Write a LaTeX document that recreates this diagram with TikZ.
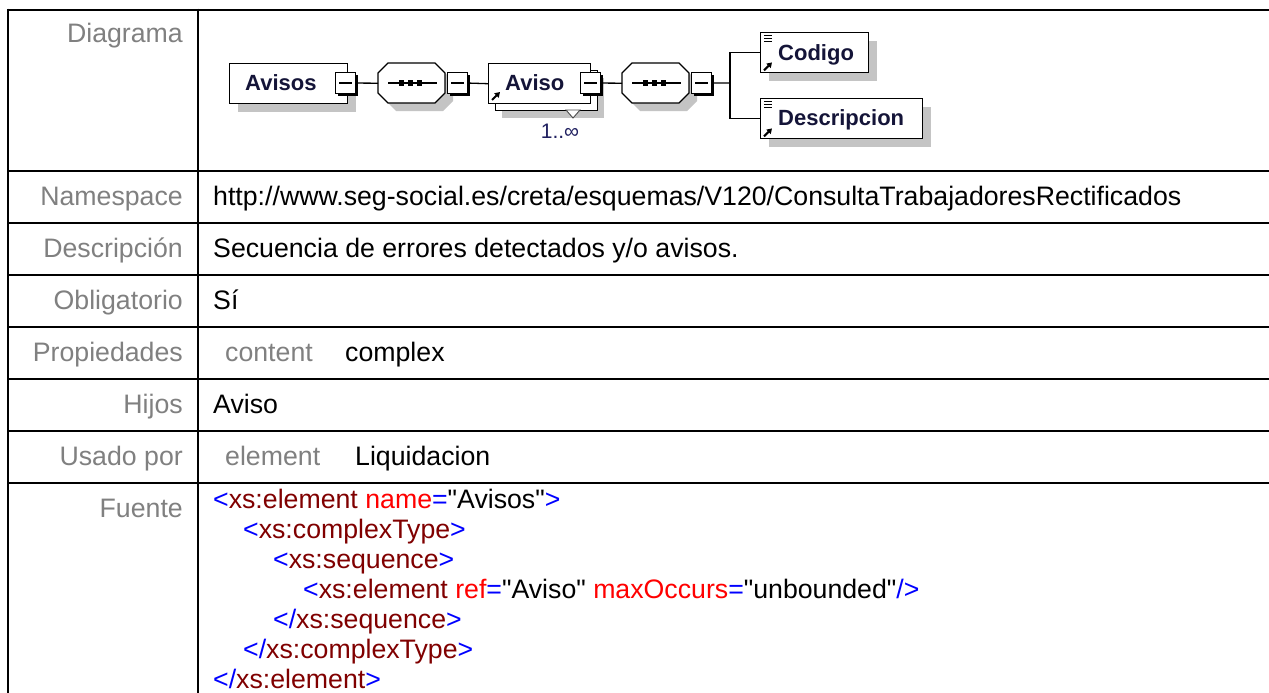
\documentclass[tikz,border=0pt]{standalone}
\usepackage{fontspec}
\newfontfamily\arial{Liberation Sans}[Ligatures=TeXOff]
\usetikzlibrary{arrows.meta,shadows}
\definecolor{lblgray}{HTML}{808080}
\definecolor{xblue}{HTML}{0000FF}
\definecolor{xmaroon}{HTML}{800000}
\definecolor{xred}{HTML}{FF0000}
\definecolor{navy}{HTML}{141438}
\definecolor{occcol}{HTML}{202060}
\definecolor{shad}{HTML}{C4C4C4}
\newcommand\tabfont{\arial\fontsize{26.7}{30}\selectfont}
\newcommand\boxfont{\arial\bfseries\fontsize{22}{24}\selectfont}
\newcommand\occfont{\arial\fontsize{21}{23}\selectfont}
\newcommand\xmlB[1]{\textcolor{xblue}{#1}}
\newcommand\xmlM[1]{\textcolor{xmaroon}{#1}}
\newcommand\xmlR[1]{\textcolor{xred}{#1}}
\newcommand\drawseq[1]{%
  \begin{scope}[shift={(#1.north west)}]
    \fill[shad] (18,8) -- (65,8) -- (75,18) -- (75,38) -- (65,48) -- (18,48) -- (8,38) -- (8,18) -- cycle;
    \draw[line width=1.3, fill=white] (10,0) -- (57,0) -- (67,10) -- (67,30) -- (57,40) -- (10,40) -- (0,30) -- (0,10) -- cycle;
    \draw[line width=1.2] (10,20) -- (59,20);
    \fill (21,17.5) rectangle (26,22.5);
    \fill (30,17.5) rectangle (35,22.5);
    \fill (39,17.5) rectangle (44,22.5);
  \end{scope}}
\tikzset{
  tabline/.style={line width=2.5, black},
  lab/.style={font=\tabfont, text=lblgray, anchor=base east, inner sep=0},
  val/.style={font=\tabfont, text=black, anchor=base west, inner sep=0},
  elbox/.style={rectangle, draw=black, line width=1.4, fill=white, inner sep=0, minimum height=40, anchor=north west},
  elshadow/.style={drop shadow={shadow xshift=8pt, shadow yshift=-8pt, fill=shad, opacity=1}},
  minusbox/.style={rectangle, draw=black, line width=1.1, fill=white, inner sep=0, minimum width=20, minimum height=21, anchor=north west,
    drop shadow={shadow xshift=2pt, shadow yshift=-2pt, fill=black, opacity=1}},
  seqnode/.style={rectangle, inner sep=0, minimum width=67, minimum height=40, anchor=north west},
  boxtxt/.style={font=\boxfont, text=navy, inner sep=0, anchor=base west},
  conn/.style={line width=1.3, black},
  refarrow/.style={line width=2, -{Triangle[length=5pt,width=6pt]}},
}
\begin{document}
\begin{tikzpicture}[x=1pt,y=-1pt]
\useasboundingbox (0,0) rectangle (1269,693);
\fill[white] (0,0) rectangle (1269,693);
% table lines
\draw[tabline] (8,10) -- (1270,10);
\foreach \yy in {171,223,275,327,379,431,483} \draw[tabline] (8,\yy) -- (1270,\yy);
\draw[tabline] (8,8.75) -- (8,694);
\draw[tabline] (198,8.75) -- (198,694);
% labels
\node[lab] (lDiag) at (183,43) {Diagrama};
\node[lab] (lNs) at (183,205) {Namespace};
\node[lab] (lDesc) at (183,257) {Descripción};
\node[lab] (lObl) at (183,309) {Obligatorio};
\node[lab] (lProp) at (183,361) {Propiedades};
\node[lab] (lHij) at (183,413) {Hijos};
\node[lab] (lUsa) at (183,465) {Usado por};
\node[lab] (lFue) at (183,517) {Fuente};
% values
\node[val] (vNs) at (213,205) {http://www.seg-social.es/creta/esquemas/V120/ConsultaTrabajadoresRectificados};
\node[val] (vDesc) at (213,257) {Secuencia de errores detectados y/o avisos.};
\node[val] (vObl) at (213,309) {Sí};
\node[val, text=lblgray] (vPropK) at (225,361) {content};
\node[val] (vPropV) at (345,361) {complex};
\node[val] (vHij) at (213,413) {Aviso};
\node[val, text=lblgray] (vUsaK) at (225,465) {element};
\node[val] (vUsaV) at (355,465) {Liquidacion};
% xml source
\node[val] (x1) at (213,508) {\xmlB{<}\xmlM{xs:element} \xmlR{name}\xmlB{=}"Avisos"\xmlB{>}};
\node[val] (x2) at (243,538) {\xmlB{<}\xmlM{xs:complexType}\xmlB{>}};
\node[val] (x3) at (273,568) {\xmlB{<}\xmlM{xs:sequence}\xmlB{>}};
\node[val] (x4) at (303,598) {\xmlB{<}\xmlM{xs:element} \xmlR{ref}\xmlB{=}"Aviso" \xmlR{maxOccurs}\xmlB{=}"unbounded"\xmlB{/>}};
\node[val] (x5) at (273,628) {\xmlB{</}\xmlM{xs:sequence}\xmlB{>}};
\node[val] (x6) at (243,658) {\xmlB{</}\xmlM{xs:complexType}\xmlB{>}};
\node[val] (x7) at (213,688) {\xmlB{</}\xmlM{xs:element}\xmlB{>}};
% ---- diagram ----
\node[seqnode] (seq1) at (378,63) {};
\node[seqnode] (seq2) at (622,63) {};
\drawseq{seq1}
\drawseq{seq2}
% Avisos
\node[elbox, elshadow, minimum width=118] (avisos) at (229,63) {};
\node[boxtxt] (tAvisos) at (245,91) {Avisos};
\node[minusbox] (m1) at (335,72) {};
% Aviso (stacked)
\node[elbox, drop shadow={shadow xshift=6pt, shadow yshift=-7pt, fill=shad, opacity=1}, minimum width=102] (avisoback) at (495,70) {};
\draw[line width=0.9, draw=black!70, fill=white] (566,110) -- (580,110) -- (573,118) -- cycle;
\node[elbox, minimum width=102] (aviso) at (488,63) {};
\node[boxtxt] (tAviso) at (505,91) {Aviso};
\draw[refarrow] (492,100) -- (500,92);
\node[minusbox] (m3) at (580,72) {};
\node[font=\occfont, text=occcol, inner sep=0, anchor=base] (occ) at (560,138) {1..∞};
% minus boxes of sequences
\node[minusbox] (m2) at (447,72) {};
\node[minusbox] (m4) at (691,72) {};
\foreach \m in {m1,m2,m3,m4} \draw[line width=1.2] ([xshift=4]\m.west) -- ([xshift=-4]\m.east);
% children
\node[elbox, elshadow, minimum width=108] (codigo) at (760,32) {};
\node[boxtxt] (tCodigo) at (778,60) {Codigo};
\node[elbox, elshadow, minimum width=162] (desc) at (760,98) {};
\node[boxtxt] (tDesc) at (778,125) {Descripcion};
\foreach \b in {codigo,desc} {
  \foreach \dy in {3.5,6.5,9.5} \draw[line width=1] ([xshift=4,yshift=-\dy]\b.north west) -- ([xshift=12,yshift=-\dy]\b.north west);
  \draw[refarrow] ([xshift=4,yshift=3]\b.south west) -- ([xshift=12,yshift=11]\b.south west);
}
% connectors
\coordinate (br) at (730,83);
\draw[conn] (m1.east) -- (seq1.west);
\draw[conn] (m2.east) -- (aviso.west);
\draw[conn] (m3.east) -- (seq2.west);
\draw[conn] (m4.east) -- (br);
\draw[conn] (br) |- (codigo.west);
\draw[conn] (br) |- (desc.west);
\end{tikzpicture}
\end{document}
